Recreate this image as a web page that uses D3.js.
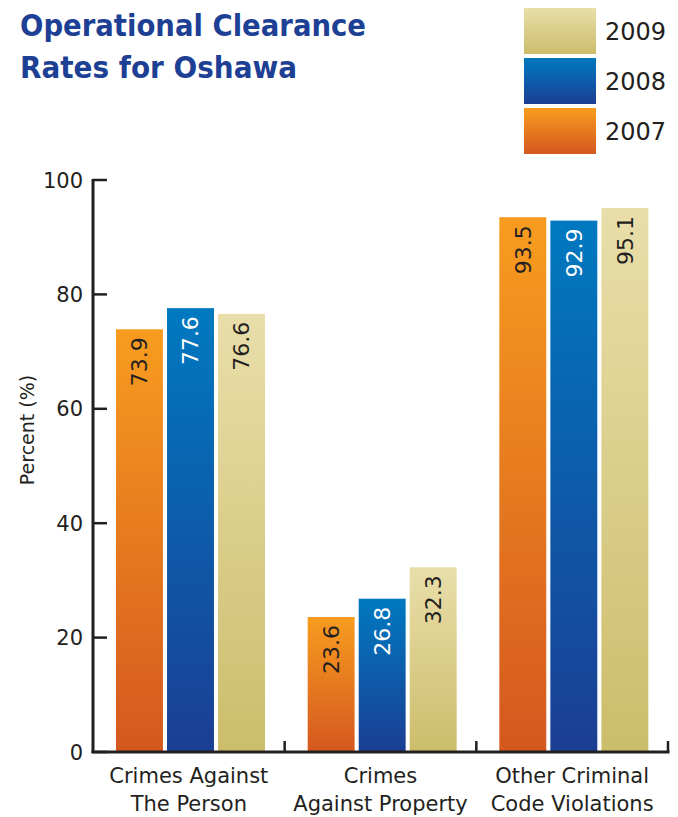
<!DOCTYPE html>
<html><head><meta charset="utf-8">
<script src="https://cdn.jsdelivr.net/npm/d3@7"></script>
<style>body{margin:0;background:#fff}svg{display:block}</style>
</head><body>
<script>
const categories = [["Crimes Against","The Person"],["Crimes","Against Property"],["Other Criminal","Code Violations"]];
const years = ["2007","2008","2009"];
const values2007 = [73.9, 23.6, 93.5];
const values2008 = [77.6, 26.8, 92.9];
const values2009 = [76.6, 32.3, 95.1];
const yTicks = [0,20,40,60,80,100];
const legendOrder = ["2009","2008","2007"];

const series = {"2007": values2007, "2008": values2008, "2009": values2009};
const W = 678, H = 817;
const svg = d3.select("body").append("svg").attr("width", W).attr("height", H);
const defs = svg.append("defs");
const grads = {
  "2007": ["#F89C1F", "#D4581F"],
  "2008": ["#0079C0", "#1B3E93"],
  "2009": ["#E9DEAA", "#CCBD6B"]
};
Object.entries(grads).forEach(([k,[a,b]]) => {
  const g = defs.append("linearGradient").attr("id","g"+k).attr("x1",0).attr("x2",0).attr("y1",0).attr("y2",1);
  g.append("stop").attr("offset","0%").attr("stop-color",a);
  g.append("stop").attr("offset","100%").attr("stop-color",b);
});
const labelColor = {"2007":"#231F20","2008":"#ffffff","2009":"#231F20"};

const x0 = 93, x1 = 668, yTop = 180, yBot = 752;
const x = d3.scaleBand().domain(d3.range(categories.length)).range([x0, x1]);
const xi = d3.scaleBand().domain(years).range([23, 23 + 3*47 + 8]).paddingInner(0.08);
const y = d3.scaleLinear().domain([0,100]).range([yBot, yTop]);

const ink = "#231F20";
const font = "'DejaVu Sans', sans-serif";

// Title
const title = svg.append("g").attr("fill","#1D3F94").attr("font-family",font).attr("font-weight","bold").attr("font-size",31);
title.append("text").attr("x",20).attr("y",36).attr("textLength",346).attr("lengthAdjust","spacingAndGlyphs").text("Operational Clearance");
title.append("text").attr("x",20).attr("y",78).attr("textLength",277).attr("lengthAdjust","spacingAndGlyphs").text("Rates for Oshawa");

// Legend
const leg = svg.append("g");
legendOrder.forEach((yr,i) => {
  const gy = 8 + i*50;
  leg.append("rect").attr("x",524).attr("y",gy).attr("width",72).attr("height",46).attr("fill",`url(#g${yr})`);
  leg.append("text").attr("x",605).attr("y",gy+23).attr("dy","0.36em").attr("font-family",font).attr("font-size",24).attr("fill",ink).text(yr);
});

// Bars
const groups = svg.append("g").selectAll("g").data(categories).join("g")
  .attr("transform",(d,i)=>`translate(${x(i)},0)`);
groups.each(function(cat, ci){
  const g = d3.select(this);
  years.forEach(yr => {
    const v = series[yr][ci];
    const bx = xi(yr), bw = xi.bandwidth();
    g.append("rect").attr("x",bx).attr("y",y(v)).attr("width",bw).attr("height",yBot - y(v)).attr("fill",`url(#g${yr})`);
    g.append("text")
      .attr("transform",`translate(${bx+bw/2},${y(v)+8}) rotate(-90)`)
      .attr("text-anchor","end").attr("dy","0.36em")
      .attr("font-family",font).attr("font-size",22).attr("fill",labelColor[yr])
      .text(v.toFixed(1));
  });
});

// Y axis
const ya = svg.append("g");
ya.append("line").attr("x1",x0).attr("x2",x0).attr("y1",yTop-1).attr("y2",yBot+1).attr("stroke",ink).attr("stroke-width",3);
yTicks.forEach(t => {
  ya.append("line").attr("x1",x0).attr("x2",107).attr("y1",y(t)).attr("y2",y(t)).attr("stroke",ink).attr("stroke-width",2.5);
  ya.append("text").attr("x",83).attr("y",y(t)).attr("dy","0.36em").attr("text-anchor","end")
    .attr("font-family",font).attr("font-size",21).attr("fill",ink).text(t);
});
svg.append("text").attr("transform",`translate(34,430) rotate(-90)`).attr("text-anchor","middle")
  .attr("font-family",font).attr("font-size",19).attr("fill",ink).text("Percent (%)");

// X axis
const xa = svg.append("g");
xa.append("line").attr("x1",x0-1.5).attr("x2",x1+1.5).attr("y1",yBot).attr("y2",yBot).attr("stroke",ink).attr("stroke-width",3);
d3.range(categories.length+1).forEach(i => {
  const xx = i < categories.length ? x(i) : x1;
  if (i>0) xa.append("line").attr("x1",xx).attr("x2",xx).attr("y1",yBot).attr("y2",yBot-11).attr("stroke",ink).attr("stroke-width",2.5);
});
categories.forEach((c,i) => {
  const t = xa.append("text").attr("text-anchor","middle").attr("font-family",font).attr("font-size",21).attr("fill",ink);
  c.forEach((line,j) => t.append("tspan").attr("x",x(i)+x.bandwidth()/2).attr("y",783+j*28).text(line));
});
</script>
</body></html>
